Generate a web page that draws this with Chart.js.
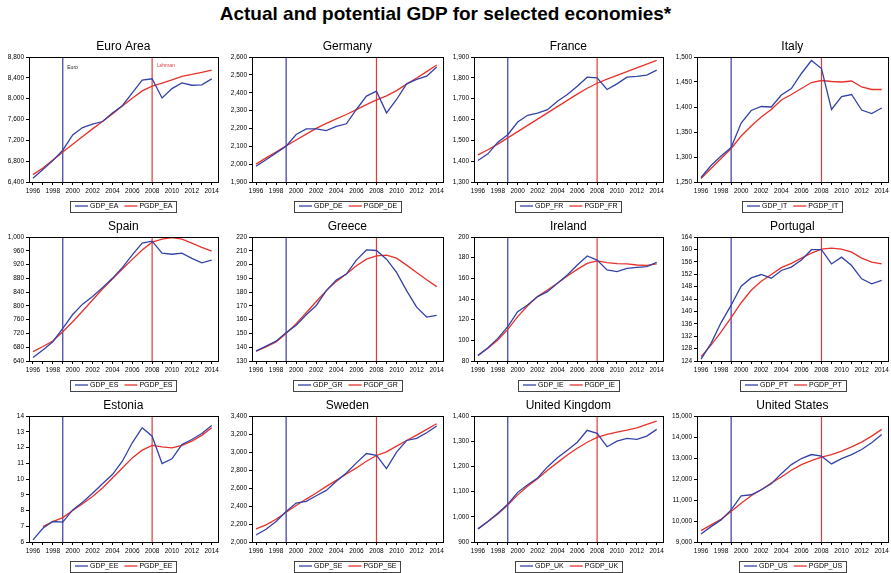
<!DOCTYPE html>
<html>
<head>
<meta charset="utf-8">
<script src="https://cdn.jsdelivr.net/npm/chart.js@4.4.1/dist/chart.umd.min.js"></script>
<style>
  body { margin: 0; background: #fff; width: 891px; height: 573px; position: relative; overflow: hidden;
         font-family: "Liberation Sans", Arial, sans-serif; }
  #mainTitle { position: absolute; left: 0; top: 3px; width: 891px; text-align: center;
               font-weight: bold; font-size: 19px; color: #000; }
  canvas { position: absolute; }
</style>
</head>
<body>
<div id="mainTitle">Actual and potential GDP for selected economies*</div>
<script>
// ---- data -------------------------------------------------------------
const years = [1996, 1997, 1998, 1999, 2000, 2001, 2002, 2003, 2004, 2005,
               2006, 2007, 2008, 2009, 2010, 2011, 2012, 2013, 2014];

const EURO_YEAR = 1999;     // euro introduction
const LEHMAN_YEAR = 2008;   // Lehman collapse

const gdpEA  = [6471, 6640, 6810, 7010, 7303, 7445, 7510, 7561, 7723, 7864, 8110, 8355, 8381, 8013, 8194, 8303, 8258, 8264, 8381];
const pgdpEA = [6542, 6670, 6820, 6975, 7125, 7275, 7420, 7560, 7705, 7860, 8010, 8150, 8240, 8300, 8360, 8430, 8465, 8505, 8548];

const gdpDE  = [1988, 2025, 2063, 2100, 2166, 2197, 2197, 2188, 2212, 2226, 2306, 2381, 2409, 2287, 2362, 2450, 2475, 2493, 2544];
const pgdpDE = [2000, 2035, 2068, 2102, 2135, 2168, 2200, 2228, 2254, 2278, 2305, 2333, 2360, 2382, 2412, 2448, 2482, 2518, 2555];

const gdpFR  = [1403, 1435, 1491, 1527, 1588, 1620, 1631, 1647, 1688, 1720, 1760, 1803, 1800, 1744, 1771, 1803, 1807, 1813, 1837];
const pgdpFR = [1430, 1455, 1482, 1512, 1542, 1572, 1602, 1632, 1662, 1692, 1722, 1750, 1774, 1794, 1812, 1830, 1848, 1866, 1884];

const gdpIT  = [1259, 1283, 1302, 1319, 1368, 1393, 1401, 1400, 1424, 1437, 1467, 1493, 1477, 1395, 1421, 1425, 1394, 1387, 1398];
const pgdpIT = [1257, 1277, 1297, 1317, 1342, 1362, 1380, 1395, 1414, 1425, 1437, 1449, 1453, 1451, 1450, 1452, 1440, 1435, 1435];

const gdpES  = [650, 672, 696, 735, 775, 805, 827, 853, 880, 911, 948, 982, 988, 953, 950, 953, 938, 925, 933];
const pgdpES = [667, 682, 698, 725, 754, 785, 817, 849, 878, 907, 935, 962, 985, 994, 998, 994, 982, 970, 959];

const gdpGR  = [137.2, 140.8, 144.4, 150.6, 155.9, 163.6, 170.3, 181.1, 188.8, 193.1, 203.2, 210.6, 210.2, 203.9, 194.3, 181.1, 169.1, 161.9, 163.1];
const pgdpGR = [137.2, 140.3, 143.9, 149.9, 157.1, 165.0, 173.2, 181.1, 187.8, 193.1, 199.1, 203.9, 206.3, 206.8, 204.6, 199.6, 194.3, 189.0, 184.0];

const gdpIE  = [85.2, 92.9, 101.9, 113.2, 127.7, 134.2, 142.3, 147.1, 155.2, 163.2, 172.9, 181.6, 177.7, 168.1, 166.5, 169.7, 170.6, 171.3, 175.5];
const pgdpIE = [85.5, 92.3, 100.3, 110.6, 122.9, 133.5, 142.3, 148.7, 155.2, 162.3, 168.7, 174.5, 176.8, 175.2, 174.2, 173.9, 172.9, 172.6, 173.9];

const gdpPT  = [124.6, 129.7, 136.4, 142.0, 148.1, 150.8, 151.9, 150.7, 153.2, 154.3, 156.6, 159.9, 159.9, 155.3, 157.5, 154.8, 150.5, 148.9, 150.0];
const pgdpPT = [125.4, 129.1, 133.4, 138.0, 142.8, 146.8, 149.7, 151.9, 154.1, 155.5, 157.2, 158.8, 160.1, 160.4, 160.1, 159.1, 157.2, 155.9, 155.3];

const gdpEE  = [6.13, 6.87, 7.30, 7.26, 8.04, 8.53, 9.10, 9.70, 10.28, 11.13, 12.30, 13.26, 12.72, 10.98, 11.28, 12.19, 12.51, 12.89, 13.40];
const pgdpEE = [null, 6.98, 7.30, 7.55, 8.00, 8.43, 8.89, 9.43, 10.06, 10.70, 11.34, 11.83, 12.13, 12.04, 11.98, 12.13, 12.40, 12.77, 13.26];

const gdpSE  = [2078, 2142, 2227, 2339, 2432, 2451, 2514, 2573, 2674, 2767, 2879, 2983, 2964, 2815, 2998, 3128, 3151, 3214, 3288];
const pgdpSE = [2145, 2190, 2253, 2331, 2406, 2477, 2544, 2618, 2685, 2756, 2823, 2897, 2961, 3002, 3065, 3128, 3188, 3251, 3314];

const gdpUK  = [952, 981, 1014, 1050, 1097, 1127, 1154, 1198, 1234, 1264, 1296, 1343, 1331, 1278, 1300, 1311, 1307, 1320, 1347];
const pgdpUK = [952, 981, 1011, 1047, 1087, 1121, 1151, 1185, 1215, 1245, 1272, 1296, 1315, 1327, 1336, 1344, 1353, 1367, 1380];

const gdpUS  = [9383, 9733, 10052, 10531, 11202, 11249, 11489, 11776, 12255, 12686, 12973, 13165, 13085, 12718, 12973, 13165, 13404, 13723, 14122];
const pgdpUS = [9542, 9813, 10084, 10451, 10850, 11202, 11489, 11808, 12095, 12415, 12686, 12877, 13037, 13165, 13324, 13532, 13755, 14042, 14362];

// panel titles, series codes and y-axis tick ranges [min, max, step]
const panelTitles = ['Euro Area', 'Germany', 'France', 'Italy',
                     'Spain', 'Greece', 'Ireland', 'Portugal',
                     'Estonia', 'Sweden', 'United Kingdom', 'United States'];
const seriesCodes = ['EA', 'DE', 'FR', 'IT', 'ES', 'GR', 'IE', 'PT', 'EE', 'SE', 'UK', 'US'];
const actualSeries    = [gdpEA, gdpDE, gdpFR, gdpIT, gdpES, gdpGR, gdpIE, gdpPT, gdpEE, gdpSE, gdpUK, gdpUS];
const potentialSeries = [pgdpEA, pgdpDE, pgdpFR, pgdpIT, pgdpES, pgdpGR, pgdpIE, pgdpPT, pgdpEE, pgdpSE, pgdpUK, pgdpUS];
const yTickRanges = [
  [6400, 8800, 400], [1900, 2600, 100], [1300, 1900, 100], [1250, 1500, 50],
  [640, 1000, 40],   [130, 220, 10],    [80, 200, 20],     [124, 164, 4],
  [6, 14, 1],        [2000, 3400, 200], [900, 1400, 100],  [9000, 15000, 1000]
];

// ---- styling & layout -------------------------------------------------
const FONT = '"Liberation Sans", Arial, sans-serif';
const BLUE = '#3443a8';
const RED = '#e8322c';
const EURO_LINE = '#3a3aa8';
const LEHMAN_LINE = '#e23a3a';

const colBounds = [[29, 219], [252, 444], [474, 664], [697, 889]];
const rowBounds = [[57, 182], [237, 361], [416, 542]];
const AXIS_W = 29, PAD_TOP = 20, PAD_RIGHT = 2, XAXIS_H = 14, PAD_BOTTOM = 22;

Chart.defaults.font.family = FONT;
Chart.defaults.color = '#000';

// frame, event lines, panel title and boxed legend
const panelDecor = {
  id: 'panelDecor',
  beforeDatasetsDraw(chart) {
    const { ctx, chartArea: a, scales: { x } } = chart;
    ctx.save();
    ctx.lineWidth = 1.2;
    [[EURO_YEAR, EURO_LINE], [LEHMAN_YEAR, LEHMAN_LINE]].forEach(([yr, col]) => {
      const px = x.getPixelForValue(yr);
      ctx.strokeStyle = col;
      ctx.beginPath(); ctx.moveTo(px, a.top); ctx.lineTo(px, a.bottom); ctx.stroke();
    });
    const o = chart.options.plugins.panelDecor;
    if (o.eventLabels) {
      ctx.font = '5px ' + FONT;
      ctx.textBaseline = 'middle';
      ctx.textAlign = 'left';
      ctx.fillStyle = '#222';
      ctx.fillText('Euro', x.getPixelForValue(EURO_YEAR) + 4.5, a.top + 11);
      ctx.fillStyle = LEHMAN_LINE;
      ctx.fillText('Lehman', x.getPixelForValue(LEHMAN_YEAR) + 4.5, a.top + 9);
    }
    ctx.restore();
  },
  afterDraw(chart) {
    const { ctx, chartArea: a } = chart;
    const o = chart.options.plugins.panelDecor;
    ctx.save();
    // plot frame
    ctx.strokeStyle = '#000';
    ctx.lineWidth = 1;
    ctx.strokeRect(Math.round(a.left) + 0.5, Math.round(a.top) + 0.5,
                   Math.round(a.right - a.left), Math.round(a.bottom - a.top));
    const cx = (a.left + a.right) / 2;
    // title
    ctx.fillStyle = '#000';
    ctx.font = '12px ' + FONT;
    ctx.textAlign = 'center';
    ctx.textBaseline = 'middle';
    ctx.fillText(o.title, cx, a.top - 10);
    // legend
    ctx.font = '7px ' + FONT;
    const items = chart.data.datasets.map(d => ({ label: d.label, color: d.borderColor, w: ctx.measureText(d.label).width }));
    const sample = 13, gapS = 2, gapI = 6, padL = 5, padR = 4;
    const total = padL + items.reduce((s, it) => s + sample + gapS + it.w, 0) + gapI * (items.length - 1) + padR;
    const ly = a.bottom + 24;
    let lx = Math.round(cx - total / 2);
    ctx.strokeStyle = '#444';
    ctx.lineWidth = 1;
    ctx.strokeRect(lx + 0.5, Math.round(ly - 5.5) + 0.5, Math.round(total), 11);
    lx += padL;
    ctx.textAlign = 'left';
    items.forEach((it, i) => {
      ctx.strokeStyle = it.color;
      ctx.lineWidth = 1.3;
      ctx.beginPath(); ctx.moveTo(lx, ly); ctx.lineTo(lx + sample, ly); ctx.stroke();
      lx += sample + gapS;
      ctx.fillStyle = '#000';
      ctx.fillText(it.label, lx, ly + 0.5);
      lx += it.w + gapI;
    });
    ctx.restore();
  }
};

const fmt = v => Number(v).toLocaleString('en-US');

panelTitles.forEach((title, i) => {
  const [cl, cr] = colBounds[i % 4];
  const [rt, rb] = rowBounds[Math.floor(i / 4)];
  const canvas = document.createElement('canvas');
  const w = AXIS_W + (cr - cl) + PAD_RIGHT;
  const h = PAD_TOP + (rb - rt) + XAXIS_H + PAD_BOTTOM;
  canvas.width = w; canvas.height = h;
  canvas.style.left = (cl - AXIS_W) + 'px';
  canvas.style.top = (rt - PAD_TOP) + 'px';
  canvas.style.width = w + 'px'; canvas.style.height = h + 'px';
  document.body.appendChild(canvas);

  const [ymin, ymax, ystep] = yTickRanges[i];
  const code = seriesCodes[i];
  const toPoints = arr => years.map((yr, k) => ({ x: yr, y: arr[k] }));

  new Chart(canvas, {
    type: 'line',
    data: {
      datasets: [
        { label: 'GDP_' + code, data: toPoints(actualSeries[i]), borderColor: BLUE, borderWidth: 1.3,
          pointRadius: 0, tension: 0, fill: false },
        { label: 'PGDP_' + code, data: toPoints(potentialSeries[i]), borderColor: RED, borderWidth: 1.3,
          pointRadius: 0, tension: 0, fill: false, spanGaps: false }
      ]
    },
    options: {
      responsive: false,
      animation: false,
      events: [],
      layout: { padding: { left: 0, right: PAD_RIGHT, top: PAD_TOP, bottom: PAD_BOTTOM } },
      plugins: {
        legend: { display: false },
        title: { display: false },
        tooltip: { enabled: false },
        panelDecor: { title: title, eventLabels: i === 0 }
      },
      scales: {
        x: {
          type: 'linear', min: 1995.6, max: 2014.6,
          afterBuildTicks: s => { s.ticks = years.map(v => ({ value: v })); },
          afterFit: s => { s.height = XAXIS_H; },
          ticks: { autoSkip: false, maxRotation: 0, padding: 2, font: { size: 6.5 },
                   callback: v => (v % 2 === 0 ? String(v) : '') },
          grid: { drawOnChartArea: false, drawTicks: true, tickLength: 3, color: '#000' },
          border: { display: true, color: '#000' }
        },
        y: {
          type: 'linear', min: ymin, max: ymax,
          afterFit: s => { s.width = AXIS_W; },
          ticks: { stepSize: ystep, padding: 2, font: { size: 6.5 }, callback: v => fmt(v) },
          grid: { drawOnChartArea: false, drawTicks: true, tickLength: 3, color: '#000' },
          border: { display: true, color: '#000' }
        }
      }
    },
    plugins: [panelDecor]
  });
});
</script>
</body>
</html>
